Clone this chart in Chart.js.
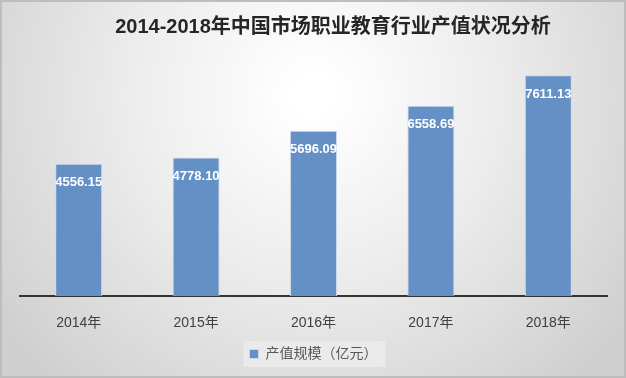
<!DOCTYPE html>
<html>
<head>
<meta charset="utf-8">
<script src="https://cdn.jsdelivr.net/npm/chart.js@4"></script>
<style>
  html, body { margin: 0; padding: 0; }
  #wrap { width: 626px; height: 378px; }
</style>
</head>
<body>
<div id="wrap"><canvas id="chart" width="626" height="378"></canvas></div>
<script>
// Data
const years = ["2014年", "2015年", "2016年", "2017年", "2018年"];
const outputValues = [4556.15, 4778.10, 5696.09, 6558.69, 7611.13];
const seriesName = "产值规模（亿元）";
const chartTitle = "2014-2018年中国市场职业教育行业产值状况分析";

const fontFamily = '"Liberation Sans", "Noto Sans CJK SC", sans-serif';

// Background: soft radial gray fade with thin frame, plus a lighter box behind the legend
const backgroundPlugin = {
  id: "bgFill",
  beforeDraw(chart) {
    const { ctx, width, height } = chart;
    ctx.save();
    const g = ctx.createRadialGradient(width * 0.5, height * 0.25, 20, width * 0.5, height * 0.25, width * 0.62);
    g.addColorStop(0, "#ffffff");
    g.addColorStop(0.45, "#ececec");
    g.addColorStop(1, "#cfcfcf");
    ctx.fillStyle = g;
    ctx.fillRect(0, 0, width, height);
    ctx.strokeStyle = "#bdbdbd";
    ctx.lineWidth = 2;
    ctx.strokeRect(1, 1, width - 2, height - 2);

    const lg = chart.legend;
    if (lg && lg.legendHitBoxes && lg.legendHitBoxes.length) {
      const hb = lg.legendHitBoxes[0];
      ctx.fillStyle = "rgba(234,234,234,0.95)";
      ctx.fillRect(hb.left - 6, hb.top - 6, hb.width + 14, hb.height + 12);
    }

    // title sits a bit right of centre in the original
    ctx.font = "bold 20px " + fontFamily;
    ctx.fillStyle = "#262626";
    ctx.textAlign = "center";
    ctx.textBaseline = "middle";
    ctx.fillText(chartTitle, 333, 27);
    ctx.restore();
  }
};

// Value labels in white, inside the top of each bar
const valueLabelPlugin = {
  id: "valueLabels",
  afterDatasetsDraw(chart) {
    const { ctx } = chart;
    const meta = chart.getDatasetMeta(0);
    ctx.save();
    ctx.font = "bold 13px " + fontFamily;
    ctx.fillStyle = "#ffffff";
    ctx.textAlign = "center";
    ctx.textBaseline = "middle";
    meta.data.forEach((bar, i) => {
      ctx.fillText(outputValues[i].toFixed(2), bar.x, bar.y + 19);
    });
    ctx.restore();
  }
};

new Chart(document.getElementById("chart").getContext("2d"), {
  type: "bar",
  data: {
    labels: years,
    datasets: [
      {
        label: seriesName,
        data: outputValues,
        backgroundColor: "#6490c5",
        borderColor: "#c9d8ec",
        borderWidth: 1,
        barPercentage: 0.4,
        categoryPercentage: 1.0,
      },
    ],
  },
  options: {
    responsive: false,
    animation: false,
    layout: {
      padding: { left: 20, right: 19, top: 64, bottom: 7 },
    },
    plugins: {
      title: { display: false },
      legend: {
        position: "bottom",
        labels: {
          boxWidth: 9,
          boxHeight: 9,
          color: "#595959",
          font: { family: fontFamily, size: 14 },
          padding: 2,
        },
      },
      tooltip: { enabled: false },
    },
    scales: {
      x: {
        grid: { display: false, drawTicks: false },
        border: { display: true, color: "#333333", width: 2 },
        ticks: {
          color: "#404040",
          font: { family: fontFamily, size: 14, lineHeight: 1.0 },
          padding: 20,
        },
        afterFit(scale) {
          scale.height -= 5;
        },
      },
      y: {
        display: false,
        min: 0,
        max: 8000,
      },
    },
  },
  plugins: [backgroundPlugin, valueLabelPlugin],
});
</script>
</body>
</html>
